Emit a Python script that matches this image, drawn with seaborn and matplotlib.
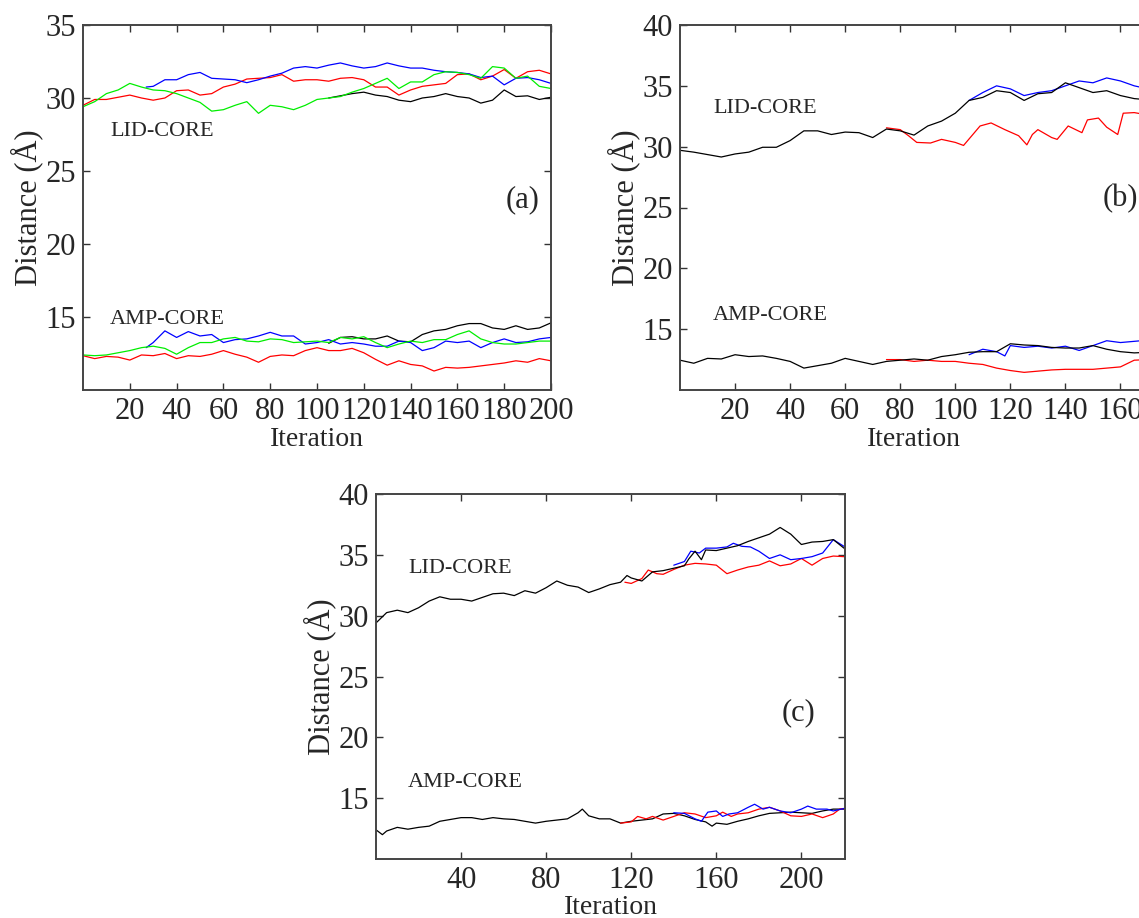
import matplotlib
matplotlib.use("Agg")
import matplotlib.pyplot as plt
import seaborn as sns
import pandas as pd

# ---------------- data: panel (a) ----------------
A_X_FULL = [0, 5, 10, 15, 20, 25, 30, 35, 40, 45, 50, 55, 60, 65, 70, 75, 80, 85, 90, 95, 100,
            105, 110, 115, 120, 125, 130, 135, 140, 145, 150, 155, 160, 165, 170, 175, 180, 185, 190, 195, 200]
A_X_BLUE = [27, 30, 35, 40, 45, 50, 55, 60, 65, 70, 75, 80, 85, 90, 95, 100,
            105, 110, 115, 120, 125, 130, 135, 140, 145, 150, 155, 160, 165, 170, 175, 180, 185, 190, 195, 200]
A_X_BLACK = [105, 110, 115, 120, 125, 130, 135, 140, 145, 150, 155, 160, 165, 170, 175, 180, 185, 190, 195, 200]

A_LID_GREEN = [29.4, 29.75, 30.3, 30.55, 31.0, 30.75, 30.55, 30.5, 30.3, 30.0, 29.7, 29.1, 29.2, 29.5, 29.75,
               28.95, 29.5, 29.4, 29.2, 29.5, 29.9, 30.0, 30.1, 30.4, 30.65, 31.0, 31.35, 30.65, 31.1, 31.1,
               31.6, 31.8, 31.75, 31.6, 31.35, 32.15, 32.05, 31.35, 31.5, 30.8, 30.65]
A_LID_RED = [29.5, 29.9, 29.9, 30.05, 30.2, 30.0, 29.85, 30.0, 30.5, 30.55, 30.2, 30.3, 30.75, 30.95, 31.3,
             31.35, 31.4, 31.6, 31.15, 31.25, 31.25, 31.15, 31.35, 31.4, 31.25, 30.75, 30.75, 30.2, 30.55, 30.8,
             30.9, 31.0, 31.6, 31.65, 31.25, 31.5, 31.95, 31.35, 31.8, 31.9, 31.65]
A_LID_BLUE = [30.75, 30.8, 31.25, 31.25, 31.6, 31.75, 31.35, 31.3, 31.25, 31.05, 31.25, 31.5, 31.7, 32.05,
              32.15, 32.05, 32.25, 32.4, 32.2, 32.05, 32.15, 32.4, 32.2, 32.05, 32.05, 31.9, 31.8, 31.75,
              31.65, 31.4, 31.5, 30.9, 31.35, 31.4, 31.25, 31.0]
A_LID_BLACK = [30.0, 30.15, 30.3, 30.4, 30.2, 30.1, 29.85, 29.75, 30.0, 30.1, 30.3, 30.1, 30.0, 29.65, 29.85,
               30.55, 30.1, 30.15, 29.9, 30.05]

A_AMP_RED = [12.35, 12.15, 12.3, 12.25, 12.05, 12.4, 12.35, 12.5, 12.15, 12.35, 12.3, 12.45, 12.7, 12.45, 12.25,
             11.9, 12.3, 12.4, 12.35, 12.7, 12.9, 12.7, 12.7, 12.85, 12.55, 12.1, 11.7, 12.0, 11.75, 11.65,
             11.3, 11.55, 11.5, 11.55, 11.65, 11.75, 11.85, 12.0, 11.9, 12.15, 12.0]
A_AMP_GREEN = [12.4, 12.35, 12.4, 12.55, 12.7, 12.9, 13.0, 12.85, 12.45, 12.9, 13.25, 13.25, 13.5, 13.6, 13.35,
               13.3, 13.5, 13.45, 13.25, 13.3, 13.35, 13.25, 13.6, 13.5, 13.65, 13.25, 12.9, 13.15, 13.35, 13.25,
               13.45, 13.45, 13.8, 14.05, 13.5, 13.25, 13.15, 13.15, 13.25, 13.35, 13.35]
A_AMP_BLUE = [12.9, 13.25, 14.05, 13.6, 14.0, 13.7, 13.8, 13.25, 13.45, 13.5, 13.7, 13.95, 13.7, 13.7, 13.15,
              13.25, 13.45, 13.15, 13.25, 13.15, 13.0, 13.0, 13.35, 13.25, 12.7, 12.9, 13.35, 13.25, 13.35,
              12.9, 13.25, 13.5, 13.25, 13.3, 13.5, 13.6]
A_AMP_BLACK = [13.2, 13.6, 13.65, 13.5, 13.5, 13.7, 13.35, 13.3, 13.8, 14.05, 14.15, 14.4, 14.55, 14.55, 14.25,
               14.15, 14.4, 14.15, 14.25, 14.6]

# ---------------- data: panel (b) ----------------
B_X_BLACK = [0, 5, 10, 15, 20, 25, 30, 35, 40, 45, 50, 55, 60, 65, 70, 75, 80, 85, 90, 95, 100,
             105, 110, 115, 120, 125, 130, 135, 140, 145, 150, 155, 160, 165, 170]
B_LID_BLACK = [29.7, 29.55, 29.35, 29.15, 29.4, 29.55, 29.95, 29.95, 30.5, 31.3, 31.3, 31.0, 31.2, 31.15, 30.75,
               31.45, 31.3, 30.95, 31.7, 32.1, 32.75, 33.8, 34.05, 34.6, 34.45, 33.8, 34.35, 34.45, 35.25, 34.85,
               34.45, 34.6, 34.2, 33.95, 33.85]
B_X_LID_BLUE = [105, 110, 115, 120, 125, 130, 135, 140, 145, 150, 155, 160, 165, 170]
B_LID_BLUE = [33.8, 34.45, 35.0, 34.75, 34.2, 34.45, 34.6, 35.0, 35.4, 35.25, 35.65, 35.4, 35.0, 34.75]
B_X_LID_RED = [75, 80, 83, 86, 91, 95, 100, 103, 106, 109, 113, 118, 123, 126, 128, 130, 135, 137, 141, 146,
               148, 152, 155, 159, 161, 165, 170]
B_LID_RED = [31.55, 31.4, 30.9, 30.35, 30.3, 30.6, 30.35, 30.1, 30.9, 31.7, 31.95, 31.4, 30.9, 30.15, 31.0,
             31.4, 30.75, 30.6, 31.7, 31.15, 32.2, 32.35, 31.6, 31.0, 32.75, 32.8, 32.6]

B_AMP_BLACK = [12.45, 12.2, 12.6, 12.55, 12.9, 12.75, 12.8, 12.6, 12.35, 11.8, 12.0, 12.2, 12.6, 12.35, 12.1,
               12.35, 12.45, 12.55, 12.45, 12.75, 12.9, 13.1, 13.15, 13.15, 13.8, 13.7, 13.65, 13.5, 13.45,
               13.45, 13.65, 13.35, 13.15, 13.05, 13.1]
B_X_AMP_BLUE = [105, 110, 115, 118, 120, 125, 130, 135, 140, 145, 150, 155, 160, 165, 170]
B_AMP_BLUE = [12.9, 13.35, 13.15, 12.8, 13.65, 13.5, 13.6, 13.45, 13.6, 13.25, 13.65, 14.05, 13.9, 14.0, 14.1]
B_X_AMP_RED = [75, 80, 85, 90, 95, 100, 105, 110, 115, 120, 125, 130, 135, 140, 145, 150, 155, 160, 165, 170]
B_AMP_RED = [12.5, 12.5, 12.35, 12.45, 12.35, 12.35, 12.2, 12.1, 11.8, 11.6, 11.45, 11.55, 11.65, 11.7, 11.7,
             11.7, 11.8, 11.9, 12.45, 12.5]

# ---------------- data: panel (c) ----------------
C_X_LID_BLACK = [0, 5, 10, 15, 20, 25, 30, 35, 40, 45, 50, 55, 60, 65, 70, 75, 80, 85, 90, 95, 100, 105, 110,
                 115, 118, 120, 125, 130, 135, 140, 145, 147, 150, 153, 155, 160, 165, 170, 175, 180, 185, 190,
                 195, 200, 205, 210, 215, 220]
C_LID_BLACK = [29.4, 30.25, 30.45, 30.25, 30.65, 31.2, 31.55, 31.35, 31.35, 31.2, 31.5, 31.8, 31.85, 31.65,
               32.05, 31.85, 32.3, 32.85, 32.5, 32.35, 31.9, 32.2, 32.55, 32.75, 33.3, 33.1, 32.85, 33.6, 33.7,
               33.9, 34.1, 34.65, 35.3, 34.6, 35.4, 35.35, 35.55, 35.75, 36.1, 36.4, 36.7, 37.25, 36.7, 35.85,
               36.05, 36.1, 36.25, 35.55]
C_X_LID_BLUE = [140, 145, 148, 152, 155, 160, 165, 168, 172, 176, 180, 185, 190, 195, 200, 205, 210, 215, 220]
C_LID_BLUE = [34.15, 34.45, 35.3, 35.15, 35.55, 35.55, 35.65, 35.95, 35.7, 35.65, 35.3, 34.7, 35.0, 34.6, 34.7,
              34.85, 35.15, 36.25, 35.7]
C_X_LID_RED = [117, 120, 125, 128, 132, 135, 140, 145, 150, 155, 160, 165, 170, 175, 180, 185, 190, 195, 200,
               205, 210, 215, 220]
C_LID_RED = [32.75, 32.65, 33.05, 33.75, 33.45, 33.4, 33.8, 34.15, 34.3, 34.25, 34.15, 33.45, 33.75, 34.0, 34.15,
             34.5, 34.1, 34.25, 34.7, 34.15, 34.7, 34.9, 34.85]

C_X_AMP_BLACK = [0, 3, 5, 10, 15, 20, 25, 30, 35, 40, 45, 50, 55, 60, 65, 70, 75, 80, 85, 90, 95, 97, 100, 105,
                 110, 115, 120, 125, 130, 135, 140, 145, 150, 155, 158, 160, 165, 170, 175, 180, 185, 190, 195,
                 200, 205, 210, 215, 220]
C_AMP_BLACK = [12.4, 12.0, 12.3, 12.6, 12.45, 12.6, 12.7, 13.1, 13.25, 13.4, 13.4, 13.25, 13.4, 13.3, 13.25,
               13.1, 12.95, 13.1, 13.2, 13.3, 13.8, 14.1, 13.55, 13.3, 13.3, 12.95, 13.1, 13.2, 13.3, 13.7,
               13.75, 13.55, 13.25, 13.05, 12.7, 12.95, 12.85, 13.1, 13.3, 13.55, 13.75, 13.8, 13.85, 13.8,
               13.75, 13.95, 14.1, 14.1]
C_X_AMP_RED = [115, 120, 123, 127, 130, 135, 140, 145, 150, 155, 160, 163, 167, 170, 175, 180, 185, 190, 195,
               200, 205, 210, 215, 218, 220]
C_AMP_RED = [12.95, 13.05, 13.5, 13.3, 13.5, 13.2, 13.5, 13.8, 13.7, 13.4, 13.55, 13.85, 13.5, 13.7, 13.8, 14.1,
             14.25, 13.95, 13.55, 13.5, 13.7, 13.4, 13.7, 14.1, 14.15]
C_X_AMP_BLUE = [140, 145, 150, 153, 156, 160, 163, 166, 170, 175, 178, 182, 185, 190, 195, 200, 203, 207, 212,
                215, 220]
C_AMP_BLUE = [13.8, 13.75, 13.3, 13.1, 13.85, 13.95, 13.5, 13.7, 13.8, 14.25, 14.5, 14.1, 14.25, 13.95, 13.8,
              14.1, 14.35, 14.1, 14.1, 13.95, 14.15]

Y_TICKS_A = [15, 20, 25, 30, 35]
Y_TICKS_BC = [15, 20, 25, 30, 35, 40]
X_TICKS_A = [20, 40, 60, 80, 100, 120, 140, 160, 180, 200]
X_TICKS_B = [20, 40, 60, 80, 100, 120, 140, 160]
X_TICKS_C = [40, 80, 120, 160, 200]

# ---------------- style ----------------
sns.set_style("ticks")
plt.rcParams["font.family"] = ["Liberation Serif", "DejaVu Serif"]

W, H = 1139, 918
fig = plt.figure(figsize=(W / 100, H / 100), dpi=100)


def make_ax(x0, y0, x1, y1):
    return fig.add_axes([x0 / W, 1 - y1 / H, (x1 - x0) / W, (y1 - y0) / H])


ax_a = make_ax(83, 25, 551, 390)
ax_b = make_ax(680, 25, 1148, 390)
ax_c = make_ax(376, 494, 845, 859)

COL = {"blue": "#0000ff", "red": "#ff0000", "green": "#00ee00", "black": "#000000"}
LW = 0.9


def draw(ax, x, y, c):
    df = pd.DataFrame({"Iteration": x, "Distance": y})
    sns.lineplot(data=df, x="Iteration", y="Distance", ax=ax, color=COL[c], lw=LW,
                 estimator=None, sort=False)


# panel a
draw(ax_a, A_X_FULL, A_LID_RED, "red")
draw(ax_a, A_X_BLUE, A_LID_BLUE, "blue")
draw(ax_a, A_X_BLACK, A_LID_BLACK, "black")
draw(ax_a, A_X_FULL, A_LID_GREEN, "green")
draw(ax_a, A_X_FULL, A_AMP_RED, "red")
draw(ax_a, A_X_BLACK, A_AMP_BLACK, "black")
draw(ax_a, A_X_BLUE, A_AMP_BLUE, "blue")
draw(ax_a, A_X_FULL, A_AMP_GREEN, "green")

# panel b
draw(ax_b, B_X_LID_RED, B_LID_RED, "red")
draw(ax_b, B_X_LID_BLUE, B_LID_BLUE, "blue")
draw(ax_b, B_X_BLACK, B_LID_BLACK, "black")
draw(ax_b, B_X_AMP_RED, B_AMP_RED, "red")
draw(ax_b, B_X_AMP_BLUE, B_AMP_BLUE, "blue")
draw(ax_b, B_X_BLACK, B_AMP_BLACK, "black")

# panel c
draw(ax_c, C_X_LID_RED, C_LID_RED, "red")
draw(ax_c, C_X_LID_BLUE, C_LID_BLUE, "blue")
draw(ax_c, C_X_LID_BLACK, C_LID_BLACK, "black")
draw(ax_c, C_X_AMP_BLACK, C_AMP_BLACK, "black")
draw(ax_c, C_X_AMP_RED, C_AMP_RED, "red")
draw(ax_c, C_X_AMP_BLUE, C_AMP_BLUE, "blue")

settings = [
    (ax_a, (0, 200), (10, 35), X_TICKS_A, Y_TICKS_A, "(a)", (180.5, 23.0), (11.5, 27.7), (11.5, 14.85), 1),
    (ax_b, (0, 170), (10, 40), X_TICKS_B, Y_TICKS_BC, "(b)", (153.5, 25.7), (12, 33.1), (12, 16.1), 1),
    (ax_c, (0, 220.5), (10, 40), X_TICKS_C, Y_TICKS_BC, "(c)", (190.5, 22.0), (15, 33.9), (15, 16.3), 0),
]

for ax, xl, yl, xt, yt, tag, tpos, lpos, apos, xpad in settings:
    ax.set_xticks(xt)
    ax.set_yticks(yt)
    ax.set_xticklabels([str(v) for v in xt])
    ax.set_yticklabels([str(v) for v in yt])
    ax.set_xlim(*xl)
    ax.set_ylim(*yl)
    ax.tick_params(direction="in", length=5, width=1.0, labelsize=22, pad=5,
                   top=True, right=True, color="#333333")
    for s in ax.spines.values():
        s.set_visible(True)
        s.set_color("#444444")
        s.set_linewidth(1.4)
    ax.set_xlabel("Iteration", fontsize=20, labelpad=xpad)
    ax.set_ylabel("Distance (Å)", fontsize=22, labelpad=2)
    ax.text(tpos[0], tpos[1], tag, fontsize=22, ha="left", va="center")
    ax.text(lpos[0], lpos[1], "LID-CORE", fontsize=16, ha="left", va="center")
    ax.text(apos[0], apos[1], "AMP-CORE", fontsize=16, ha="left", va="center")
    ax.grid(False)
    leg = ax.get_legend()
    if leg is not None:
        leg.remove()

fig.savefig("out.png", dpi=100, facecolor="white")
